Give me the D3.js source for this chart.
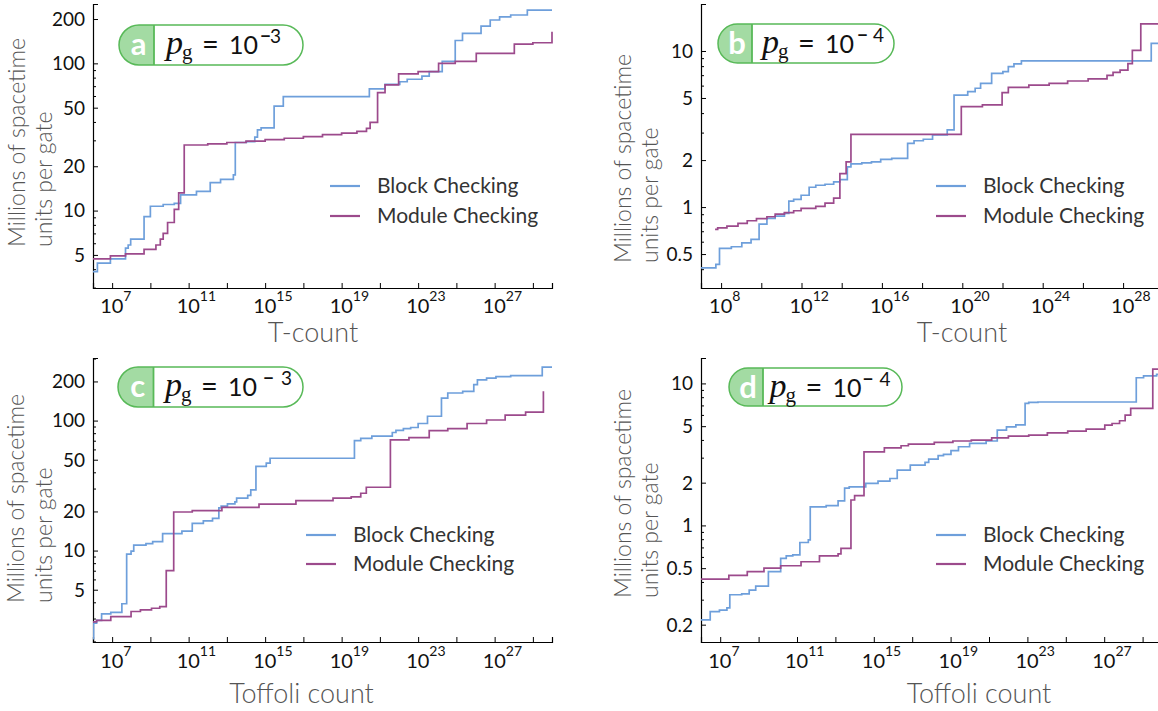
<!DOCTYPE html>
<html><head><meta charset="utf-8">
<script src="https://cdn.jsdelivr.net/npm/d3@7"></script>
<style>body{margin:0;background:#fff}svg{display:block}</style>
</head><body>
<script>
// ---------- DATA (x values are log10 of the gate count) ----------
const seriesNames = ["Block Checking", "Module Checking"];

const aBlockExp  = [6, 6.23, 6.91, 7.70, 7.84, 7.97, 8.67, 9.0, 9.67, 10.25, 10.58, 11.41, 12.13, 12.67, 13.34, 13.44, 14.02, 14.46, 14.60, 14.79, 15.47, 15.95, 20.45, 21.27, 22.04, 22.43, 23.2, 23.58, 24.26, 24.94, 25.32, 26.29, 26.77, 27.26, 27.84, 28.71, 30];
const aBlockVal  = [3.85, 4.4, 4.7, 5.56, 5.84, 6.4, 9.1, 10.7, 11.0, 11.2, 12.8, 13.5, 15.5, 16.3, 17.5, 29, 29.4, 31.5, 35.3, 36.4, 51.3, 59.5, 67, 72, 75, 78, 82, 88, 103, 143, 160, 179, 197, 207, 213, 230, 230];
const aModuleExp = [6, 6.91, 7.7, 8.67, 9.29, 9.52, 9.67, 9.90, 10.25, 10.48, 10.77, 12, 13, 14, 15, 16, 17, 18, 19, 19.8, 20.3, 20.49, 20.88, 21.27, 21.98, 23.0, 24.07, 24.94, 26.04, 28.03, 29.0, 30];
const aModuleVal = [4.7, 4.92, 5.08, 5.46, 5.84, 6.4, 7.0, 8.3, 10.2, 13.2, 27.9, 28.4, 29.0, 29.6, 30.3, 31.0, 31.8, 32.8, 33.6, 34.5, 36.2, 39.7, 63.2, 71.4, 84.8, 88, 100, 103, 117, 135, 138, 164];

const bBlockExp  = [7, 7.74, 7.92, 8.51, 9.03, 9.49, 9.89, 10.28, 10.69, 11.15, 11.37, 11.61, 11.98, 12.38, 12.71, 13.17, 13.60, 13.91, 14.28, 14.46, 15.0, 15.48, 15.94, 16.49, 17.28, 17.60, 18.06, 18.52, 19.25, 19.59, 20.27, 20.64, 20.91, 21.46, 22.02, 22.29, 22.57, 22.94, 29.40, 30];
const bBlockVal  = [0.408, 0.429, 0.543, 0.557, 0.59, 0.62, 0.778, 0.846, 0.875, 0.91, 1.09, 1.12, 1.19, 1.34, 1.38, 1.40, 1.45, 1.50, 1.81, 1.89, 1.92, 1.95, 2.02, 2.05, 2.56, 2.66, 2.72, 2.9, 3.12, 5.22, 5.49, 5.77, 6.21, 7.19, 7.38, 7.94, 8.26, 8.63, 11.2, 11.2];
const bModuleExp = [7.70, 7.83, 8.29, 8.84, 9.30, 9.76, 10.28, 10.69, 11.15, 11.61, 11.98, 12.71, 13.17, 13.60, 13.91, 14.22, 14.46, 19.95, 21.0, 21.98, 22.29, 23.31, 24.32, 25.24, 26.26, 27.2, 27.5, 27.85, 28.24, 28.46, 28.88, 30];
const bModuleVal = [0.72, 0.735, 0.755, 0.786, 0.817, 0.842, 0.867, 0.902, 0.92, 0.947, 0.98, 1.01, 1.06, 1.14, 1.64, 1.95, 2.92, 4.40, 4.51, 5.41, 5.85, 6.05, 6.21, 6.42, 6.62, 6.98, 7.3, 7.55, 8.3, 10.1, 14.9, 14.9];

const cBlockExp  = [6, 6.03, 6.19, 6.45, 6.93, 7.51, 7.76, 7.99, 8.13, 8.77, 9.12, 9.64, 10.65, 11.19, 11.77, 12.25, 12.58, 12.70, 13.03, 13.42, 13.51, 14.09, 14.25, 14.52, 15.06, 15.26, 19.67, 20.0, 20.58, 21.65, 21.84, 22.23, 22.61, 23.0, 23.49, 24.22, 24.55, 25.33, 25.91, 26.10, 26.58, 27.07, 27.84, 29.49, 30];
const cBlockVal  = [2.1, 2.77, 2.9, 3.26, 3.35, 3.9, 9.4, 9.9, 11.0, 11.3, 11.7, 13.5, 14.1, 16.2, 16.9, 17.7, 21.3, 22.0, 22.9, 23.7, 25.3, 26.6, 29.3, 44.4, 47, 51.3, 70, 73, 76, 81, 84, 86.6, 88.5, 95, 108, 149, 163, 168, 189, 206, 212, 218, 222, 258, 258];
const cModuleExp = [6, 6.19, 6.93, 7.99, 8.48, 9.06, 9.49, 9.83, 10.22, 11.19, 12.74, 14.68, 16.61, 18.55, 19.5, 20.0, 20.29, 21.55, 22.52, 23.58, 24.55, 25.56, 26.58, 27.55, 28.62, 29.55];
const cModuleVal = [2.83, 2.9, 3.1, 3.4, 3.5, 3.6, 3.7, 7.0, 19.8, 20.3, 21.5, 22.8, 24.2, 25.3, 25.9, 27.6, 30.7, 71, 74, 83.7, 86.6, 95, 101, 110, 116, 168];

const dBlockExp  = [6, 6.48, 6.96, 7.35, 7.50, 8.12, 8.51, 8.85, 9.51, 10.15, 10.44, 10.78, 11.15, 11.59, 11.69, 12.52, 13.14, 13.48, 13.72, 14.58, 15.22, 15.84, 16.22, 16.90, 17.67, 17.86, 18.35, 18.63, 19.02, 19.41, 19.99, 20.85, 21.43, 21.91, 22.40, 22.88, 23.07, 23.55, 28.67, 29.05, 29.73, 30];
const dBlockVal  = [0.216, 0.247, 0.253, 0.263, 0.325, 0.33, 0.35, 0.374, 0.472, 0.586, 0.61, 0.62, 0.758, 0.79, 1.35, 1.38, 1.49, 1.83, 1.87, 1.98, 2.05, 2.14, 2.45, 2.66, 2.78, 2.93, 3.1, 3.16, 3.36, 3.58, 3.78, 3.93, 4.69, 4.95, 5.1, 7.23, 7.35, 7.4, 10.96, 11.3, 11.57, 11.57];
const dModuleExp = [6, 7.45, 8.41, 9.28, 10.15, 11.21, 12.17, 13.14, 13.29, 13.81, 14.0, 14.49, 15.55, 16.42, 16.80, 18.15, 19.12, 20.08, 21.14, 22.01, 23.07, 24.04, 25.10, 26.06, 27.03, 27.41, 27.80, 28.09, 28.38, 29.53, 30];
const dModuleVal = [0.418, 0.445, 0.472, 0.50, 0.52, 0.555, 0.61, 0.63, 0.69, 1.51, 1.62, 3.3, 3.52, 3.64, 3.74, 3.84, 3.93, 3.99, 4.14, 4.26, 4.32, 4.49, 4.61, 4.77, 5.09, 5.22, 5.46, 5.98, 6.67, 12.6, 12.6];

const yTickLabelsA = [5, 10, 20, 50, 100, 200];
const yTickLabelsB = [0.5, 1, 2, 5, 10];
const yTickLabelsC = [5, 10, 20, 50, 100, 200];
const yTickLabelsD = [0.2, 0.5, 1, 2, 5, 10];
const xLabelExpsA = [7, 11, 15, 19, 23, 27];
const xLabelExpsB = [8, 12, 16, 20, 24, 28];
const panelLetters = ["a", "b", "c", "d"];
const panelExponents = ["3", "4", "3", "4"];
const xTitles = ["T-count", "T-count", "Toffoli count", "Toffoli count"];
const yTitleLines = ["Millions of spacetime", "units per gate"];

// ---------- STYLE / LAYOUT ----------
const W = 1158, H = 711;
const BLUE = "#6e9fdb", PURPLE = "#9c4a8c", GREEN = "#58b958", LIGHTGREEN = "#a3dba3";
const SANS = "Lato, 'Open Sans', 'Noto Sans', sans-serif";
const SERIF = "'Liberation Serif', 'DejaVu Serif', serif";

const panels = [
  {bx: aBlockExp, bv: aBlockVal, mx: aModuleExp, mv: aModuleVal, yLabels: yTickLabelsA, xLabels: xLabelExpsA, xTickStart: 7,
   left: 93, top: 4, bottom: 288, xMin: 6, xMax: 30, pxDec: 19.125, yDom: [2.98, 253],
   box: {x: 119, y: 25, w: 184, h: 40, div: 154, p: 166, minus: 94, digit: 104},
   yTitle: {b1: 24.6, b2: 52.3, start: 247}, xTitle: {cx: 313, base: 342}, tickBase: 313,
   legend: {x1: 330, x2: 360, tx: 377, y1: 186, y2: 216}},
  {bx: bBlockExp, bv: bBlockVal, mx: bModuleExp, mv: bModuleVal, yLabels: yTickLabelsB, xLabels: xLabelExpsB, xTickStart: 8,
   left: 701, top: 4, bottom: 288, xMin: 7, xMax: 30, pxDec: 20.1, yDom: [0.303, 20],
   box: {x: 718, y: 24, w: 176, h: 39, div: 752, p: 762, minus: 95, digit: 111},
   yTitle: {b1: 630.6, b2: 658.4, start: 263}, xTitle: {cx: 962, base: 342}, tickBase: 313,
   legend: {x1: 936, x2: 966, tx: 983, y1: 186, y2: 216}},
  {bx: cBlockExp, bv: cBlockVal, mx: cModuleExp, mv: cModuleVal, yLabels: yTickLabelsC, xLabels: xLabelExpsA, xTickStart: 7,
   left: 93, top: 358, bottom: 642, xMin: 6, xMax: 30, pxDec: 19.125, yDom: [1.98, 303],
   box: {x: 118, y: 367, w: 185, h: 40, div: 153.5, p: 165, minus: 98, digit: 116},
   yTitle: {b1: 23.7, b2: 51.5, start: 603}, xTitle: {cx: 301.5, base: 703}, tickBase: 668,
   legend: {x1: 306, x2: 336, tx: 353, y1: 535, y2: 564}},
  {bx: dBlockExp, bv: dBlockVal, mx: dModuleExp, mv: dModuleVal, yLabels: yTickLabelsD, xLabels: xLabelExpsA, xTickStart: 7,
   left: 701, top: 358, bottom: 642, xMin: 6, xMax: 30, pxDec: 19.2, yDom: [0.151, 15.1],
   box: {x: 729, y: 368, w: 173, h: 38, div: 763, p: 769.5, minus: 93, digit: 110},
   yTitle: {b1: 630.6, b2: 658.4, start: 598}, xTitle: {cx: 979, base: 703}, tickBase: 668,
   legend: {x1: 936, x2: 966, tx: 983, y1: 535, y2: 564}}
];

const svg = d3.select("body").append("svg").attr("width", W).attr("height", H);

panels.forEach((P, i) => {
  const right = P.left + (P.xMax - P.xMin) * P.pxDec;
  const x = d3.scaleLog().domain([10 ** P.xMin, 10 ** P.xMax]).range([P.left, right]);
  const y = d3.scaleLog().domain(P.yDom).range([P.bottom, P.top]);
  const g = svg.append("g");

  // x ticks (every 2 decades), labels every 4
  const xTickVals = d3.range(P.xTickStart, P.xMax + 0.01, 2).map(e => 10 ** e);
  const xAxis = d3.axisBottom(x).tickValues(xTickVals).tickSize(-5).tickFormat("");
  const gx = g.append("g").attr("transform", `translate(0,${P.bottom})`).call(xAxis);
  gx.select(".domain").attr("stroke", "#000").attr("stroke-width", 1.2);
  gx.selectAll(".tick line").attr("stroke", "#000").attr("stroke-width", 1);
  P.xLabels.forEach(e => {
    const t = g.append("text").attr("x", x(10 ** e) - 12).attr("y", P.tickBase)
      .attr("text-anchor", "start").attr("font-family", SANS).attr("font-size", 20).attr("fill", "#111");
    t.append("tspan").text("10");
    t.append("tspan").attr("dy", -12).attr("font-size", 14).text(e);
  });

  // y ticks
  const [lo, hi] = P.yDom;
  const minor = [];
  for (let p = Math.floor(Math.log10(lo)); p <= Math.ceil(Math.log10(hi)); p++) {
    for (let k = 1; k <= 9; k++) {
      const v = k * 10 ** p;
      if (v >= lo * 0.999 && v <= hi && !P.yLabels.some(l => Math.abs(l - v) / v < 1e-6)) minor.push(v);
    }
  }
  const yAxisMajor = d3.axisLeft(y).tickValues(P.yLabels).tickSize(-5).tickFormat("");
  const gy = g.append("g").attr("transform", `translate(${P.left},0)`).call(yAxisMajor);
  gy.select(".domain").attr("stroke", "#000").attr("stroke-width", 1.2);
  gy.selectAll(".tick line").attr("stroke", "#000");
  const gym = g.append("g").attr("transform", `translate(${P.left},0)`)
    .call(d3.axisLeft(y).tickValues(minor).tickSize(-3).tickFormat(""));
  gym.select(".domain").remove();
  gym.selectAll(".tick line").attr("stroke", "#000");
  P.yLabels.forEach(v => {
    g.append("text").attr("x", P.left - 8).attr("y", y(v)).attr("dy", "0.36em")
      .attr("text-anchor", "end").attr("font-family", SANS).attr("font-size", 19).attr("fill", "#111")
      .text(v);
  });

  // axis titles
  yTitleLines.forEach((line, j) => {
    g.append("text")
      .attr("transform", `translate(${j === 0 ? P.yTitle.b1 : P.yTitle.b2},${P.yTitle.start}) rotate(-90)`)
      .attr("font-family", SANS).attr("font-weight", 300).attr("font-size", 23).attr("fill", "#555")
      .text(line);
  });
  g.append("text").attr("x", P.xTitle.cx).attr("y", P.xTitle.base).attr("text-anchor", "middle")
    .attr("font-family", SANS).attr("font-weight", 300).attr("font-size", 27).attr("fill", "#555")
    .text(xTitles[i]);

  // lines
  const line = d3.line().curve(d3.curveStepAfter).x(d => x(10 ** d[0])).y(d => y(d[1]));
  const clipId = "clip" + i;
  svg.append("clipPath").attr("id", clipId).append("rect")
    .attr("x", P.left).attr("y", P.top - 2).attr("width", right - P.left + 2).attr("height", P.bottom - P.top + 2);
  const series = [[P.bx, P.bv, BLUE], [P.mx, P.mv, PURPLE]];
  series.forEach(([ex, vals, col]) => {
    g.append("path").attr("clip-path", `url(#${clipId})`)
      .datum(ex.map((e, k) => [e, vals[k]]))
      .attr("fill", "none").attr("stroke", col).attr("stroke-width", 1.7).attr("d", line);
  });

  // legend
  const L = P.legend;
  [[L.y1, BLUE, seriesNames[0]], [L.y2, PURPLE, seriesNames[1]]].forEach(([ly, col, name]) => {
    g.append("line").attr("x1", L.x1).attr("x2", L.x2).attr("y1", ly).attr("y2", ly)
      .attr("stroke", col).attr("stroke-width", 2.2);
    g.append("text").attr("x", L.tx).attr("y", ly).attr("dy", "0.35em")
      .attr("font-family", SANS).attr("font-size", 21).attr("fill", "#333").text(name);
  });

  // label box
  const B = P.box;
  const bclip = "bclip" + i;
  svg.append("clipPath").attr("id", bclip).append("rect")
    .attr("x", B.x).attr("y", B.y).attr("width", B.w).attr("height", B.h).attr("rx", B.h / 2);
  g.append("rect").attr("x", B.x).attr("y", B.y).attr("width", B.w).attr("height", B.h).attr("rx", B.h / 2)
    .attr("fill", "#fff");
  g.append("rect").attr("clip-path", `url(#${bclip})`).attr("x", B.x).attr("y", B.y)
    .attr("width", B.div - B.x).attr("height", B.h).attr("fill", LIGHTGREEN);
  g.append("line").attr("x1", B.div).attr("x2", B.div).attr("y1", B.y).attr("y2", B.y + B.h)
    .attr("stroke", GREEN).attr("stroke-width", 1.8);
  g.append("rect").attr("x", B.x).attr("y", B.y).attr("width", B.w).attr("height", B.h).attr("rx", B.h / 2)
    .attr("fill", "none").attr("stroke", GREEN).attr("stroke-width", 1.5);
  g.append("text").attr("x", (B.x + B.div) / 2 + 2).attr("y", B.y + 30).attr("text-anchor", "middle")
    .attr("font-family", SANS).attr("font-weight", 700).attr("font-size", 31).attr("fill", "#fff")
    .text(panelLetters[i]);
  const base = B.y + 29;
  g.append("text").attr("x", B.p).attr("y", base).attr("font-family", SERIF).attr("font-style", "italic")
    .attr("font-size", 34).attr("fill", "#111").text("p");
  g.append("text").attr("x", B.p + 16).attr("y", B.y + 34).attr("font-family", SERIF)
    .attr("font-size", 21).attr("fill", "#111").text("g");
  g.append("text").attr("x", B.p + 36).attr("y", base).attr("font-family", SANS)
    .attr("font-size", 29).attr("fill", "#111").text("=");
  g.append("text").attr("x", B.p + 63).attr("y", base).attr("font-family", SANS)
    .attr("font-size", 25).attr("fill", "#111").text("10");
  g.append("text").attr("x", B.p + B.minus).attr("y", B.y + 18).attr("font-family", SANS)
    .attr("font-size", 19).attr("font-weight", 700).attr("fill", "#111").text("\u2212");
  g.append("text").attr("x", B.p + B.digit).attr("y", B.y + 18).attr("font-family", SANS)
    .attr("font-size", 19).attr("fill", "#111").text(panelExponents[i]);
});
</script>
</body></html>
